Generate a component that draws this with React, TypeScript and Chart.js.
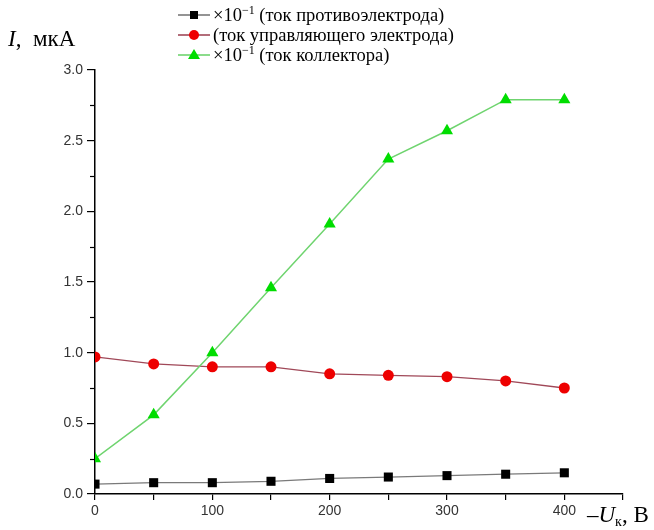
import React, { useEffect, useRef } from 'react';
import { Chart, registerables } from 'chart.js';

Chart.register(...registerables);

// Data
const voltages = [0, 50, 100, 150, 200, 250, 300, 350, 400];
const counterElectrodeCurrent = [0.07, 0.08, 0.08, 0.09, 0.11, 0.12, 0.13, 0.14, 0.15];
const controlElectrodeCurrent = [0.97, 0.92, 0.9, 0.9, 0.85, 0.84, 0.83, 0.8, 0.75];
const collectorCurrent = [0.25, 0.56, 1.0, 1.46, 1.91, 2.37, 2.57, 2.79, 2.79];
const xTickLabels = [0, 100, 200, 300, 400];
const yMinorTicks = [0.25, 0.75, 1.25, 1.75, 2.25, 2.75];
const legendPrefix = ['×10', '', '×10'];
const legendSuffix = [' (ток противоэлектрода)', '(ток управляющего электрода)', ' (ток коллектора)'];

const SERIF = '"Liberation Serif", "Times New Roman", serif';
const SANS = '"Liberation Sans", Arial, sans-serif';

const decorPlugin = {
  id: 'decor',
  afterDraw(chart: any) {
    const ctx = chart.ctx;
    const ys = chart.scales.y;
    ctx.save();
    // minor y ticks
    ctx.strokeStyle = '#000';
    ctx.lineWidth = 1.2;
    const x0 = ys.right;
    yMinorTicks.forEach((v) => {
      const py = Math.round(ys.getPixelForValue(v)) + 0.5;
      ctx.beginPath();
      ctx.moveTo(x0 - 5, py);
      ctx.lineTo(x0, py);
      ctx.stroke();
    });

    // y title: I,  мкА
    ctx.fillStyle = '#000';
    ctx.textBaseline = 'alphabetic';
    ctx.textAlign = 'left';
    ctx.font = 'italic 23px ' + SERIF;
    ctx.fillText('I', 8, 46);
    const w = ctx.measureText('I').width;
    ctx.font = '23px ' + SERIF;
    ctx.fillText(',  мкА', 8 + w, 46);

    // x title: –Uк, В
    const bx = 587;
    const by = 522;
    ctx.font = '23px ' + SERIF;
    ctx.fillText('–', bx, by);
    let cx = bx + ctx.measureText('–').width;
    ctx.font = 'italic 23px ' + SERIF;
    ctx.fillText('U', cx, by);
    cx += ctx.measureText('U').width;
    ctx.font = '14px ' + SERIF;
    ctx.fillText('к', cx, by + 4);
    cx += ctx.measureText('к').width;
    ctx.font = '23px ' + SERIF;
    ctx.fillText(', В', cx, by);

    // legend
    const rowsY = [15, 35, 55];
    const styles = chart.data.datasets;
    rowsY.forEach((ry, i) => {
      const ds = styles[i];
      const lx = 178;
      ctx.strokeStyle = ds.borderColor;
      ctx.lineWidth = 1.6;
      ctx.beginPath();
      ctx.moveTo(lx, ry);
      ctx.lineTo(lx + 32, ry);
      ctx.stroke();
      ctx.fillStyle = ds.pointBackgroundColor;
      const mx = lx + 16;
      ctx.beginPath();
      if (ds.pointStyle === 'rect') {
        ctx.rect(mx - 4, ry - 4, 8, 8);
      } else if (ds.pointStyle === 'circle') {
        ctx.arc(mx, ry, 5, 0, Math.PI * 2);
      } else {
        ctx.moveTo(mx, ry - 6);
        ctx.lineTo(mx + 6, ry + 4);
        ctx.lineTo(mx - 6, ry + 4);
        ctx.closePath();
      }
      ctx.fill();
      ctx.fillStyle = '#000';
      let tx = lx + 35;
      ctx.font = '18.5px ' + SERIF;
      if (legendPrefix[i]) {
        ctx.fillText(legendPrefix[i], tx, ry + 6);
        tx += ctx.measureText(legendPrefix[i]).width;
        ctx.font = '12px ' + SERIF;
        ctx.fillText('−1', tx, ry - 1);
        tx += ctx.measureText('−1').width;
        ctx.font = '18.5px ' + SERIF;
      }
      ctx.fillText(legendSuffix[i], tx, ry + 6);
    });
    ctx.restore();
  },
};

export default function App() {
  const ref = useRef<HTMLCanvasElement | null>(null);
  useEffect(() => {
    if (!ref.current) return;
    const chart = new Chart(ref.current, {
      type: 'line',
      data: {
        datasets: [
          {
            label: 'ток противоэлектрода',
            data: voltages.map((v, i) => ({ x: v, y: counterElectrodeCurrent[i] })),
            borderColor: '#7a7a7a',
            borderWidth: 1.3,
            pointStyle: 'rect',
            pointRadius: 6.4,
            pointBackgroundColor: '#000',
            pointBorderColor: '#000',
            pointBorderWidth: 0,
            order: 3,
          },
          {
            label: 'ток управляющего электрода',
            data: voltages.map((v, i) => ({ x: v, y: controlElectrodeCurrent[i] })),
            borderColor: '#a04858',
            borderWidth: 1.3,
            pointStyle: 'circle',
            pointRadius: 5.5,
            pointBackgroundColor: '#ee0000',
            pointBorderColor: '#ee0000',
            pointBorderWidth: 0,
            order: 2,
          },
          {
            label: 'ток коллектора',
            data: voltages.map((v, i) => ({ x: v, y: collectorCurrent[i] })),
            borderColor: '#6fd46f',
            borderWidth: 1.5,
            pointStyle: 'triangle',
            pointRadius: 7,
            pointBackgroundColor: '#00dd00',
            pointBorderColor: '#00dd00',
            pointBorderWidth: 0,
            order: 1,
          },
        ],
      },
      options: {
        animation: false,
        responsive: true,
        maintainAspectRatio: false,
        layout: { padding: { left: 0, top: 70, right: 31, bottom: 0 } },
        plugins: { legend: { display: false }, tooltip: { enabled: false }, title: { display: false } },
        scales: {
          x: {
            type: 'linear',
            min: 0,
            max: 450,
            afterFit: (s: any) => {
              s.height = 36;
            },
            afterBuildTicks: (s: any) => {
              const t = [];
              for (let v = 0; v <= 450; v += 50) t.push({ value: v });
              s.ticks = t;
            },
            ticks: {
              autoSkip: false,
              maxRotation: 0,
              padding: 3,
              color: '#333',
              font: { family: SANS, size: 14 },
              callback: (v: any) => (xTickLabels.includes(Number(v)) ? String(v) : ''),
            },
            grid: { display: true, drawOnChartArea: false, drawTicks: true, tickLength: 6, color: '#000', lineWidth: 1.2 },
            border: { display: true, color: '#000', width: 1.5 },
          },
          y: {
            type: 'linear',
            min: 0,
            max: 3,
            afterFit: (s: any) => {
              s.width = 95;
            },
            ticks: {
              stepSize: 0.5,
              padding: 4,
              color: '#333',
              font: { family: SANS, size: 14 },
              callback: (v: any) => Number(v).toFixed(1),
            },
            grid: { display: true, drawOnChartArea: false, drawTicks: true, tickLength: 8, color: '#000', lineWidth: 1.2 },
            border: { display: true, color: '#000', width: 1.5 },
          },
        },
      },
      plugins: [decorPlugin],
    });
    return () => chart.destroy();
  }, []);
  return (
    <div style={{ position: 'absolute', left: 0, top: 0, width: 654, height: 530, background: '#fff' }}>
      <canvas ref={ref} />
    </div>
  );
}
